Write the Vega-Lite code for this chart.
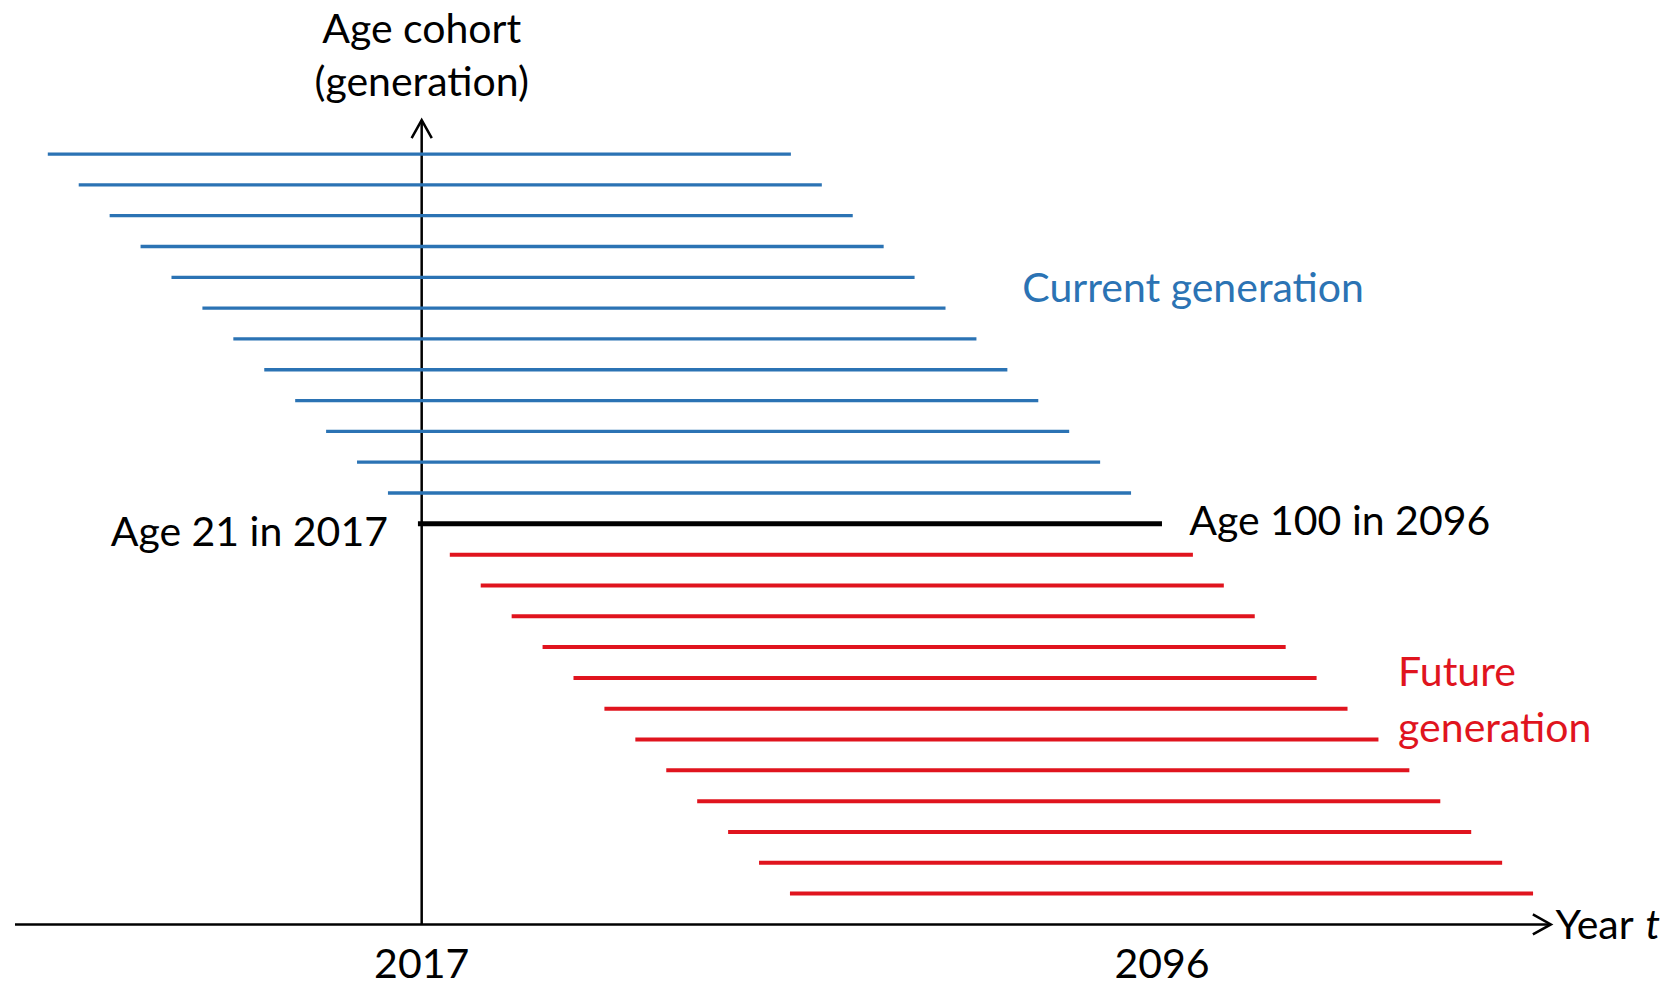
{
  "$schema": "https://vega.github.io/schema/vega-lite/v6.json",
  "width": 1668,
  "height": 986,
  "autosize": {"type": "none"},
  "padding": 0,
  "background": "white",
  "config": {"view": {"stroke": null}},
  "datasets": {
    "cohorts": [
      {"start": 1977.1, "end": 2056.4, "cohort": 12, "group": "current"},
      {"start": 1980.4, "end": 2059.7, "cohort": 11, "group": "current"},
      {"start": 1983.7, "end": 2063.0, "cohort": 10, "group": "current"},
      {"start": 1987.0, "end": 2066.3, "cohort": 9, "group": "current"},
      {"start": 1990.3, "end": 2069.6, "cohort": 8, "group": "current"},
      {"start": 1993.6, "end": 2072.9, "cohort": 7, "group": "current"},
      {"start": 1996.9, "end": 2076.2, "cohort": 6, "group": "current"},
      {"start": 2000.2, "end": 2079.5, "cohort": 5, "group": "current"},
      {"start": 2003.5, "end": 2082.8, "cohort": 4, "group": "current"},
      {"start": 2006.8, "end": 2086.1, "cohort": 3, "group": "current"},
      {"start": 2010.1, "end": 2089.4, "cohort": 2, "group": "current"},
      {"start": 2013.4, "end": 2092.7, "cohort": 1, "group": "current"},
      {"start": 2016.6, "end": 2096.0, "cohort": 0, "group": "reference"},
      {"start": 2020.0, "end": 2099.3, "cohort": -1, "group": "future"},
      {"start": 2023.3, "end": 2102.6, "cohort": -2, "group": "future"},
      {"start": 2026.6, "end": 2105.9, "cohort": -3, "group": "future"},
      {"start": 2029.9, "end": 2109.2, "cohort": -4, "group": "future"},
      {"start": 2033.2, "end": 2112.5, "cohort": -5, "group": "future"},
      {"start": 2036.5, "end": 2115.8, "cohort": -6, "group": "future"},
      {"start": 2039.8, "end": 2119.1, "cohort": -7, "group": "future"},
      {"start": 2043.1, "end": 2122.4, "cohort": -8, "group": "future"},
      {"start": 2046.4, "end": 2125.7, "cohort": -9, "group": "future"},
      {"start": 2049.7, "end": 2129.0, "cohort": -10, "group": "future"},
      {"start": 2053.0, "end": 2132.3, "cohort": -11, "group": "future"},
      {"start": 2056.3, "end": 2135.6, "cohort": -12, "group": "future"}
    ],
    "axislines": [
      {"x1": 1973.6, "x2": 2137.5, "y1": -13, "y2": -13},
      {"x1": 2017, "x2": 2017, "y1": -13, "y2": 13.1}
    ],
    "arrowX": [{"x": 2137.5, "y": -13}],
    "arrowY": [{"x": 2017, "y": 13.1}],
    "labelsCenter": [
      {"x": 2017, "y": 15.62, "text": "Age cohort", "group": "reference"},
      {"x": 2017, "y": 13.89, "text": "(generation)", "group": "reference"},
      {"x": 2017, "y": -14.73, "text": "2017", "group": "reference"},
      {"x": 2096, "y": -14.73, "text": "2096", "group": "reference"}
    ],
    "labelsRight": [
      {"x": 2013.4, "y": -0.71, "text": "Age 21 in 2017", "group": "reference"}
    ],
    "labelsLeft": [
      {"x": 2081.1, "y": 7.2, "text": "Current generation", "group": "current"},
      {"x": 2098.9, "y": -0.365, "text": "Age 100 in 2096", "group": "reference"},
      {"x": 2121.2, "y": -5.27, "text": "Future", "group": "future"},
      {"x": 2121.2, "y": -7.07, "text": "generation", "group": "future"},
      {"x": 2138.0, "y": -13.48, "text": "Year", "group": "reference"}
    ],
    "labelsItalic": [
      {"x": 2147.6, "y": -13.48, "text": "t", "group": "reference"}
    ]
  },
  "layer": [
    {
      "data": {"name": "axislines"},
      "mark": {"type": "rule", "color": "black", "strokeWidth": 2.5},
      "encoding": {
        "x": {"field": "x1", "type": "quantitative", "scale": {"domain": [1972, 2150], "nice": false, "zero": false}, "axis": null},
        "x2": {"field": "x2"},
        "y": {"field": "y1", "type": "quantitative", "scale": {"domain": [-15, 17], "nice": false, "zero": false}, "axis": null},
        "y2": {"field": "y2"}
      }
    },
    {
      "data": {"name": "cohorts"},
      "transform": [{"filter": "datum.group === 'current'"}],
      "mark": {"type": "rule", "strokeWidth": 3.3},
      "encoding": {
        "x": {"field": "start", "type": "quantitative"},
        "x2": {"field": "end"},
        "y": {"field": "cohort", "type": "quantitative"},
        "color": {"field": "group", "type": "nominal", "scale": {"domain": ["current", "reference", "future"], "range": ["#2b73b4", "#000000", "#e0141e"]}, "legend": null}
      }
    },
    {
      "data": {"name": "cohorts"},
      "transform": [{"filter": "datum.group === 'future'"}],
      "mark": {"type": "rule", "strokeWidth": 4},
      "encoding": {
        "x": {"field": "start", "type": "quantitative"},
        "x2": {"field": "end"},
        "y": {"field": "cohort", "type": "quantitative"},
        "color": {"field": "group", "type": "nominal", "legend": null}
      }
    },
    {
      "data": {"name": "cohorts"},
      "transform": [{"filter": "datum.group === 'reference'"}],
      "mark": {"type": "rule", "strokeWidth": 5},
      "encoding": {
        "x": {"field": "start", "type": "quantitative"},
        "x2": {"field": "end"},
        "y": {"field": "cohort", "type": "quantitative"},
        "color": {"field": "group", "type": "nominal", "legend": null}
      }
    },
    {
      "data": {"name": "arrowX"},
      "mark": {"type": "point", "shape": "M-1,-0.56L0,0L-1,0.56", "filled": false, "size": 1296, "strokeWidth": 2.5, "color": "black", "opacity": 1},
      "encoding": {
        "x": {"field": "x", "type": "quantitative"},
        "y": {"field": "y", "type": "quantitative"}
      }
    },
    {
      "data": {"name": "arrowY"},
      "mark": {"type": "point", "shape": "M-0.56,1L0,0L0.56,1", "filled": false, "size": 1296, "strokeWidth": 2.5, "color": "black", "opacity": 1},
      "encoding": {
        "x": {"field": "x", "type": "quantitative"},
        "y": {"field": "y", "type": "quantitative"}
      }
    },
    {
      "data": {"name": "labelsCenter"},
      "mark": {"type": "text", "align": "center", "baseline": "alphabetic", "font": "Lato", "fontSize": 41},
      "encoding": {
        "x": {"field": "x", "type": "quantitative"},
        "y": {"field": "y", "type": "quantitative"},
        "text": {"field": "text"},
        "color": {"field": "group", "type": "nominal", "legend": null}
      }
    },
    {
      "data": {"name": "labelsRight"},
      "mark": {"type": "text", "align": "right", "baseline": "alphabetic", "font": "Lato", "fontSize": 41},
      "encoding": {
        "x": {"field": "x", "type": "quantitative"},
        "y": {"field": "y", "type": "quantitative"},
        "text": {"field": "text"},
        "color": {"field": "group", "type": "nominal", "legend": null}
      }
    },
    {
      "data": {"name": "labelsLeft"},
      "mark": {"type": "text", "align": "left", "baseline": "alphabetic", "font": "Lato", "fontSize": 41},
      "encoding": {
        "x": {"field": "x", "type": "quantitative"},
        "y": {"field": "y", "type": "quantitative"},
        "text": {"field": "text"},
        "color": {"field": "group", "type": "nominal", "legend": null}
      }
    },
    {
      "data": {"name": "labelsItalic"},
      "mark": {"type": "text", "align": "left", "baseline": "alphabetic", "font": "Lato", "fontSize": 41, "fontStyle": "italic"},
      "encoding": {
        "x": {"field": "x", "type": "quantitative"},
        "y": {"field": "y", "type": "quantitative"},
        "text": {"field": "text"},
        "color": {"field": "group", "type": "nominal", "legend": null}
      }
    }
  ]
}
